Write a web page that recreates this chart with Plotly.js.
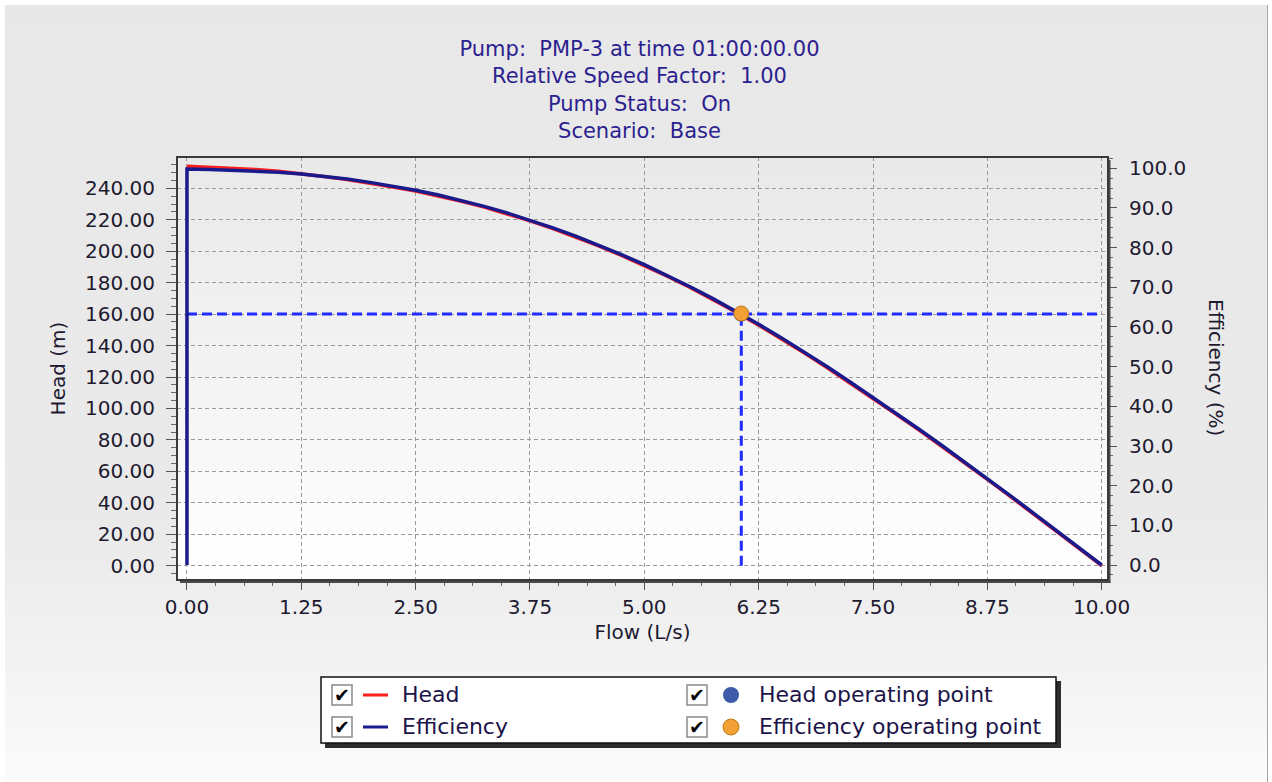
<!DOCTYPE html>
<html><head><meta charset="utf-8">
<script src="https://cdn.plot.ly/plotly-3.0.1.min.js"></script>
<style>
html,body{margin:0;padding:0;background:#fff;width:1272px;height:782px;overflow:hidden;}
#panel{position:absolute;left:5px;top:5px;width:1262px;height:777px;background:linear-gradient(to bottom,#e8e8e8 0%,#eaeaea 68%,#fbfbfb 100%);border-right:1px solid #a8a8a8;}
#plotbg{position:absolute;left:177px;top:157px;width:931px;height:423px;background:linear-gradient(to bottom,#e9e9e9 0%,#f3f3f3 50%,#ffffff 100%);}
#chart{position:absolute;left:0;top:0;width:1272px;height:782px;}
</style></head><body>
<div id="panel"></div><div id="plotbg"></div><div id="chart"></div>
<script>
// ---- data ----
const titleLines = ["Pump:  PMP-3 at time 01:00:00.00", "Relative Speed Factor:  1.00", "Pump Status:  On", "Scenario:  Base"];
const flow = [0, 0.25, 0.5, 0.75, 1.0, 1.25, 1.5, 1.75, 2.0, 2.25, 2.5, 2.75, 3.0, 3.25, 3.5, 3.75, 4.0, 4.25, 4.5, 4.75, 5.0, 5.25, 5.5, 5.75, 6.0, 6.25, 6.5, 6.75, 7.0, 7.25, 7.5, 7.75, 8.0, 8.25, 8.5, 8.75, 9.0, 9.25, 9.5, 9.75, 10.0];
const head = [254, 253.5, 252.8, 252, 250.8, 249.3, 247.5, 245.5, 243.3, 240.8, 238.2, 235.2, 231.8, 228.0, 223.8, 219.3, 214.4, 209.1, 203.4, 197.3, 190.9, 184.1, 176.9, 169.3, 161.4, 153.0, 144.3, 135.2, 125.9, 116.3, 106.5, 96.5, 86.4, 76.1, 65.6, 54.9, 44.1, 33.1, 22.2, 11.1, 0];
const effFlow = [0, 0, 0.25, 0.5, 0.75, 1.0, 1.25, 1.5, 1.75, 2.0, 2.25, 2.5, 2.75, 3.0, 3.25, 3.5, 3.75, 4.0, 4.25, 4.5, 4.75, 5.0, 5.25, 5.5, 5.75, 6.0, 6.25, 6.5, 6.75, 7.0, 7.25, 7.5, 7.75, 8.0, 8.25, 8.5, 8.75, 9.0, 9.25, 9.5, 9.75, 10.0];
const efficiency = [0, 99.8, 99.7, 99.5, 99.3, 99.0, 98.55, 98.0, 97.3, 96.45, 95.5, 94.45, 93.25, 91.9, 90.4, 88.75, 86.95, 85.0, 82.9, 80.65, 78.25, 75.7, 73.0, 70.15, 67.15, 64.0, 60.7, 57.25, 53.65, 49.95, 46.15, 42.25, 38.3, 34.3, 30.2, 26.05, 21.8, 17.5, 13.15, 8.8, 4.4, 0];
const opFlow = [6.06];
const opHead = [160];
const opEff = [63.4];
const guideFlow = [0, 10];

// ---- geometry helpers (plot area pixels) ----
const L = 177, T = 157, W = 931, H = 423, B = T + H;
const px = x => (x - L) / W;
const py = y => (B - y) / H;

const FONT = 'DejaVu Sans';
const traces = [
  {x: flow, y: head, name: 'Head', type: 'scatter', mode: 'lines', line: {color: '#ff1f1f', width: 3.5}, yaxis: 'y'},
  {x: guideFlow, y: [opHead[0], opHead[0]], type: 'scatter', mode: 'lines', line: {color: '#1f2bff', width: 3, dash: '10px,5px'}, yaxis: 'y', name: 'guide h'},
  {x: [opFlow[0], opFlow[0]], y: [0, opHead[0]], type: 'scatter', mode: 'lines', line: {color: '#1f2bff', width: 3, dash: '10px,5px'}, yaxis: 'y', name: 'guide v'},
  {x: opFlow, y: opHead, name: 'Head operating point', type: 'scatter', mode: 'markers', marker: {color: '#3d5ba8', size: 15}, yaxis: 'y'},
  {x: effFlow, y: efficiency, name: 'Efficiency', type: 'scatter', mode: 'lines', line: {color: '#1a1a8c', width: 3.5}, yaxis: 'y2'},
  {x: opFlow, y: opEff, name: 'Efficiency operating point', type: 'scatter', mode: 'markers', marker: {color: '#f2a035', size: 15, line: {color: '#c27a1c', width: 1}}, yaxis: 'y2'}
];

const tickFont = {family: FONT, size: 20, color: '#1e1a30'};
const titleFont = {family: FONT, size: 20, color: '#1e1a30'};

const shapes = [
  // frame shadow
  {type: 'line', xref: 'paper', yref: 'paper', x0: px(1109.5), x1: px(1109.5), y0: py(160), y1: py(583), line: {color: '#4a4a4a', width: 2}},
  {type: 'line', xref: 'paper', yref: 'paper', x0: px(180), x1: px(1110.5), y0: py(582), y1: py(582), line: {color: '#4a4a4a', width: 2}},
  // frame
  {type: 'rect', xref: 'paper', yref: 'paper', x0: 0, x1: 1, y0: 0, y1: 1, line: {color: '#3a3a3a', width: 2}},
  // legend shadow and box
  {type: 'rect', xref: 'paper', yref: 'paper', x0: px(325), x1: px(1061), y0: py(748), y1: py(681), fillcolor: '#2e2e2e', line: {width: 0}},
  {type: 'rect', xref: 'paper', yref: 'paper', x0: px(321), x1: px(1056), y0: py(743), y1: py(677), fillcolor: '#ffffff', line: {color: '#111', width: 1.5}},
  // legend line symbols
  {type: 'line', xref: 'paper', yref: 'paper', x0: px(363), x1: px(388), y0: py(695), y1: py(695), line: {color: '#ff1f1f', width: 3}},
  {type: 'line', xref: 'paper', yref: 'paper', x0: px(363), x1: px(388), y0: py(727), y1: py(727), line: {color: '#1a1a8c', width: 3}},
  // legend marker symbols
  {type: 'circle', xref: 'paper', yref: 'paper', xsizemode: 'pixel', ysizemode: 'pixel', xanchor: px(731), yanchor: py(695), x0: -8, x1: 8, y0: -8, y1: 8, fillcolor: '#3d5ba8', line: {width: 0}},
  {type: 'circle', xref: 'paper', yref: 'paper', xsizemode: 'pixel', ysizemode: 'pixel', xanchor: px(731), yanchor: py(727), x0: -8, x1: 8, y0: -8, y1: 8, fillcolor: '#f2a035', line: {color: '#c27a1c', width: 1}}
];
const checkPos = [[342, 695], [342, 727], [697, 695], [697, 727]];
checkPos.forEach(([cx, cy]) => shapes.push({type: 'rect', xref: 'paper', yref: 'paper', xsizemode: 'pixel', ysizemode: 'pixel', xanchor: px(cx), yanchor: py(cy), x0: -10, x1: 10, y0: -10, y1: 10, fillcolor: '#fff', line: {color: '#8a8a8a', width: 1.5}}));

const legFont = {family: FONT, size: 22, color: '#1c1448'};
const annotations = [
  {text: 'Head', xref: 'paper', yref: 'paper', x: px(400), y: py(694), xanchor: 'left', yanchor: 'middle', showarrow: false, font: legFont},
  {text: 'Efficiency', xref: 'paper', yref: 'paper', x: px(400), y: py(726), xanchor: 'left', yanchor: 'middle', showarrow: false, font: legFont},
  {text: 'Head operating point', xref: 'paper', yref: 'paper', x: px(757), y: py(694), xanchor: 'left', yanchor: 'middle', showarrow: false, font: legFont},
  {text: 'Efficiency operating point', xref: 'paper', yref: 'paper', x: px(757), y: py(726), xanchor: 'left', yanchor: 'middle', showarrow: false, font: legFont},
  {text: 'Efficiency (%)', xref: 'paper', yref: 'paper', x: px(1216), y: py(367), xanchor: 'center', yanchor: 'middle', textangle: 90, showarrow: false, font: titleFont}
];
checkPos.forEach(([cx, cy]) => annotations.push({text: '\u2714', xref: 'paper', yref: 'paper', x: px(cx), y: py(cy), xanchor: 'center', yanchor: 'middle', showarrow: false, font: {family: FONT, size: 19, color: '#000'}}));

const layout = {
  width: 1272, height: 782,
  margin: {l: L, r: 1272 - L - W, t: T, b: 782 - B, pad: 0},
  paper_bgcolor: 'rgba(0,0,0,0)', plot_bgcolor: 'rgba(0,0,0,0)',
  showlegend: false, hovermode: false,
  title: {text: titleLines.join('<br>'), font: {family: FONT, size: 21, color: '#2c1f8f'}, x: 639.5 / 1272, xanchor: 'center', xref: 'container', y: 1 - 56 / 782, yanchor: 'top', yref: 'container'},
  xaxis: {range: [-0.109, 10.069], tick0: 0, dtick: 1.25, tickformat: '.2f', ticks: 'outside', ticklen: 9, tickcolor: '#555', tickwidth: 1,
    showgrid: true, gridcolor: '#9a9a9a', griddash: '4px,3px', gridwidth: 1, zeroline: false, showline: false,
    minor: {tick0: 0, dtick: 0.3125, ticks: 'outside', ticklen: 5, tickcolor: '#666', showgrid: false},
    tickfont: tickFont, ticklabelstandoff: 0,
    title: {text: 'Flow (L/s)', font: titleFont, standoff: 6}},
  yaxis: {range: [-9.09, 259.9], tick0: 0, dtick: 20, tickformat: '.2f', ticks: 'outside', ticklen: 10, tickcolor: '#555', tickwidth: 1,
    showgrid: true, gridcolor: '#9a9a9a', griddash: '4px,3px', gridwidth: 1, zeroline: false, showline: false,
    minor: {tick0: 0, dtick: 5, ticks: 'outside', ticklen: 5, tickcolor: '#666', showgrid: false},
    tickfont: tickFont, ticklabelstandoff: 7,
    title: {text: 'Head (m)', font: titleFont, standoff: 14}},
  yaxis2: {range: [-3.78, 102.85], overlaying: 'y', side: 'right', tick0: 0, dtick: 10, tickformat: '.1f', ticks: 'outside', ticklen: 8, tickcolor: '#555', tickwidth: 1,
    showgrid: false, zeroline: false, showline: false,
    minor: {tick0: 0, dtick: 2.5, ticks: 'outside', ticklen: 4, tickcolor: '#666', showgrid: false},
    tickfont: tickFont, ticklabelstandoff: 8},
  shapes: shapes,
  annotations: annotations
};

Plotly.newPlot('chart', traces, layout, {staticPlot: true, displayModeBar: false});
</script></body></html>
